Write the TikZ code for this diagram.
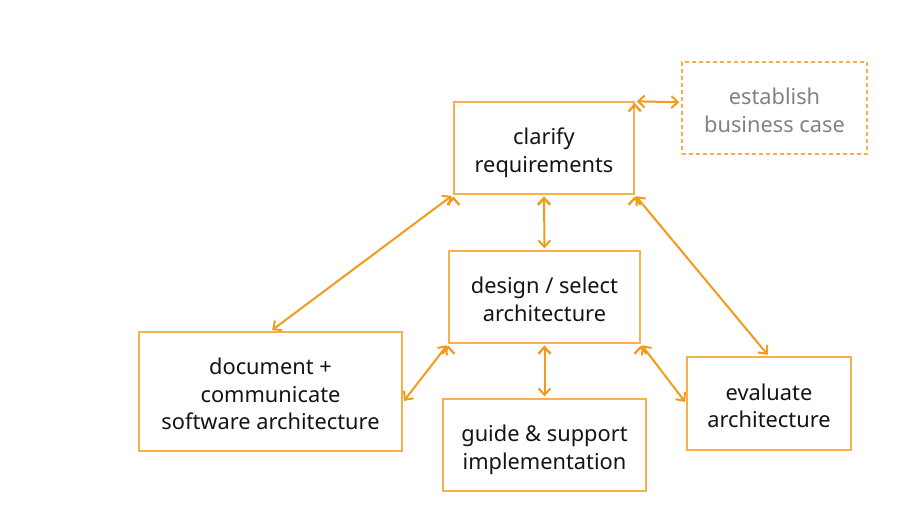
\documentclass[tikz,border=0pt]{standalone}
\usepackage{fontspec}
\setmainfont{Noto Sans}
\usepackage{xcolor}
\usepackage{tikz}
\usetikzlibrary{arrows.meta}

\definecolor{boxorange}{HTML}{F6B04E}
\definecolor{linkorange}{HTML}{F29A1C}
\definecolor{softgrey}{HTML}{7E8387}
\definecolor{inkblack}{HTML}{141414}
% lines of a box, set a little below the middle
\newcommand{\tasktext}[1]{\raisebox{-5pt}[\height][\depth]{\begin{tabular}{@{}c@{}}#1\end{tabular}}}

\begin{document}
\begin{tikzpicture}[x=1pt,y=-1pt,
		task/.style={shape=rectangle,draw=boxorange,line width=1.4pt,text=inkblack,
			font=\fontsize{21.8}{27.5}\selectfont,inner sep=0pt},
		optional/.style={task,dashed,dash pattern=on 4pt off 3pt,text=softgrey},
		link/.style={draw=linkorange,line width=2pt,{Straight Barb[length=6.5pt,width=12pt]}-{Straight Barb[length=6.5pt,width=12pt]},
			shorten >=2pt,shorten <=2pt}]
				\useasboundingbox (0,0) rectangle (911,505);
				\node[task,minimum width=180pt,minimum height=92pt] (clarify) at (544,148) {\tasktext{clarify\\requirements}};
				\node[optional,minimum width=185pt,minimum height=92pt] (business) at (774.5,108) {\tasktext{establish\\business case}};
				\node[task,minimum width=191pt,minimum height=92pt] (design) at (544.5,297) {\tasktext{design / select\\architecture}};
				\node[task,minimum width=263pt,minimum height=119pt] (document) at (270.5,391.5) {\tasktext{document +\\communicate\\software architecture}};
				\node[task,minimum width=203pt,minimum height=92pt] (guide) at (544.5,445) {\tasktext{guide \& support\\implementation}};
				\node[task,minimum width=164pt,minimum height=93pt] (evaluate) at (769,403.5) {\tasktext{evaluate\\architecture}};
				
				\path [link](clarify.north east) edge ([yshift=-1pt]business.west |- clarify.north east);
				\path [link](clarify.south west) edge (document.north);
				\path [link](clarify.south) edge (design.north);
				\path [link](clarify.south east) edge (evaluate.north);
				\path [link](design.south west) edge ([yshift=-11pt]document.east);
				\path [link](design.south) edge (guide.north);
				\path [link](design.south east) edge (evaluate.west);
			\end{tikzpicture}
\end{document}
